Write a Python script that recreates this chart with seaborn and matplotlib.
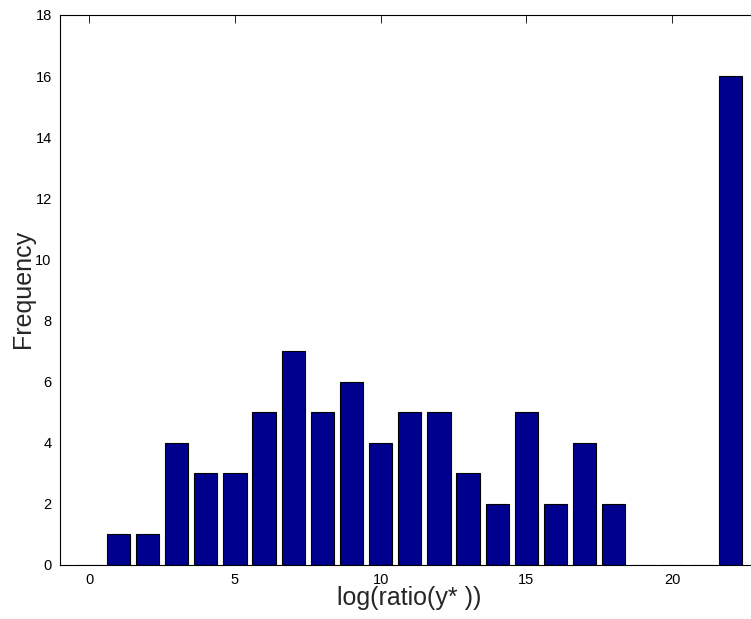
import matplotlib
matplotlib.use("Agg")
import matplotlib.pyplot as plt
import seaborn as sns
import pandas as pd

positions = list(range(0, 23))
counts = [0, 1, 1, 4, 3, 3, 5, 7, 5, 6, 4, 5, 5, 3, 2, 5, 2, 4, 2, 0, 0, 0, 16]
x_ticks = [0, 5, 10, 15, 20]
y_ticks = [0, 2, 4, 6, 8, 10, 12, 14, 16, 18]

sns.set_style("white")
plt.rcParams['font.family'] = ['Liberation Sans', 'DejaVu Sans']

df = pd.DataFrame({"pos": positions, "count": counts})

W, H = 751, 619
fig = plt.figure(figsize=(W / 100, H / 100), dpi=100)
left, right, top, bottom = 60, 759.5, 15, 565
ax = fig.add_axes([left / W, (H - bottom) / H, (right - left) / W, (bottom - top) / H])

sns.barplot(data=df, x="pos", y="count", native_scale=True, width=0.8,
            color="#00008F", saturation=1, edgecolor="black", linewidth=0.8, ax=ax)

ax.set_xlim(-1, 23)
ax.set_ylim(0, 18)
ax.set_xticks(x_ticks)
ax.set_yticks(y_ticks)
ax.tick_params(direction="in", length=5.5, width=0.6, labelsize=10.5, top=True, right=True,
               colors="black", pad=6)
for s in ax.spines.values():
    s.set_visible(True)
    s.set_color("black")
    s.set_linewidth(0.8)
ax.set_xlabel("log(ratio(y* ))", fontsize=18)
ax.set_ylabel("Frequency", fontsize=18)
ax.xaxis.set_label_coords((409 - left) / (right - left), -(598 - bottom) / (bottom - top))
ax.yaxis.set_label_coords(-(left - 23) / (right - left), (bottom - 289) / (bottom - top))
ax.xaxis.label.set_va("center")
ax.yaxis.label.set_va("center")
ax.grid(False)

fig.savefig("out.png", dpi=100)
